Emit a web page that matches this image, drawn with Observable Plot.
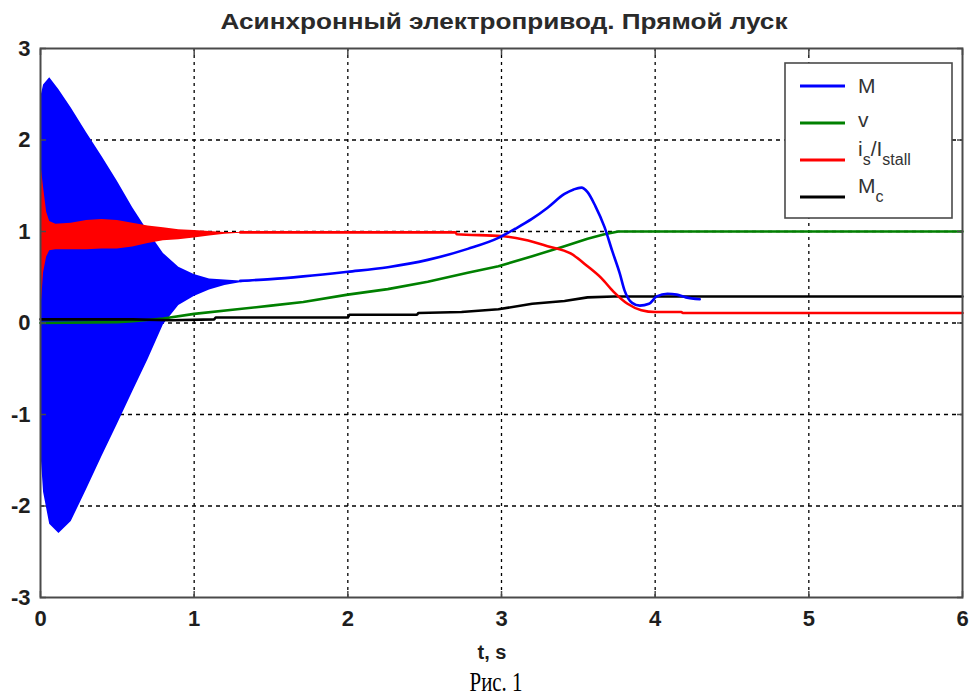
<!DOCTYPE html>
<html>
<head>
<meta charset="utf-8">
<script src="https://cdn.jsdelivr.net/npm/d3@7"></script>
<script src="https://cdn.jsdelivr.net/npm/@observablehq/plot@0.6"></script>
<style>
  html, body { margin: 0; padding: 0; background: #fff; }
  #wrap { position: relative; width: 974px; height: 697px; overflow: hidden; background: #fff; }
  #wrap > svg { position: absolute; left: 0; top: 0; }
</style>
</head>
<body>
<div id="wrap"></div>
<script>
// ---- Texts ----
const titleText = "Асинхронный электропривод. Прямой луск";
const xLabelText = "t, s";
const captionText = "Рис. 1";

// ---- Ticks ----
const xTicks = [0, 1, 2, 3, 4, 5, 6];
const xTickLabels = ["0", "1", "2", "3", "4", "5", "6"];
const yTicks = [-3, -2, -1, 0, 1, 2, 3];
const yTickLabels = ["-3", "-2", "-1", "0", "1", "2", "3"];

// ---- M (torque): dense oscillation drawn as its envelope ----
const mBandT     = [0, 0.02, 0.06, 0.12, 0.2, 0.3, 0.4, 0.5, 0.6, 0.7, 0.8, 0.9, 1.0, 1.1, 1.2, 1.3, 1.38];
const mBandUpper = [2.45, 2.6, 2.68, 2.55, 2.35, 2.08, 1.82, 1.55, 1.26, 1.0, 0.76, 0.61, 0.53, 0.48, 0.47, 0.46, 0.45];
const mBandLower = [-1.35, -1.85, -2.2, -2.3, -2.17, -1.82, -1.46, -1.11, -0.75, -0.4, -0.02, 0.19, 0.29, 0.36, 0.41, 0.44, 0.45];
// ---- M after the transient ----
const mT = [1.3, 1.5, 1.71, 2.0, 2.26, 2.52, 2.78, 2.98, 3.09, 3.2, 3.3, 3.41, 3.47, 3.52, 3.56, 3.61, 3.67, 3.72, 3.77, 3.8, 3.85, 3.9, 3.96, 4.01, 4.08, 4.14, 4.2, 4.29];
const mV = [0.46, 0.48, 0.51, 0.56, 0.61, 0.69, 0.81, 0.93, 1.03, 1.14, 1.26, 1.41, 1.46, 1.48, 1.43, 1.28, 1.05, 0.79, 0.54, 0.36, 0.22, 0.19, 0.21, 0.29, 0.32, 0.31, 0.28, 0.26];

// ---- i_s / I_stall: oscillating envelope then line ----
const iBandT     = [0, 0.005, 0.02, 0.04, 0.06, 0.1, 0.2, 0.3, 0.4, 0.5, 0.6, 0.7, 0.8, 0.9, 1.0, 1.1, 1.2, 1.3];
const iBandUpper = [1.75, 1.7, 1.48, 1.21, 1.11, 1.08, 1.09, 1.12, 1.13, 1.12, 1.09, 1.06, 1.04, 1.02, 1.01, 1.0, 0.99, 0.99];
const iBandLower = [0.0, 0.2, 0.55, 0.72, 0.79, 0.8, 0.8, 0.8, 0.81, 0.81, 0.83, 0.87, 0.9, 0.91, 0.93, 0.95, 0.97, 0.98];
const iT = [1.3, 2.7, 2.71, 3.0, 3.15, 3.3, 3.45, 3.56, 3.65, 3.73, 3.82, 3.91, 4.0, 4.17, 4.18, 6.0];
const iV = [0.99, 0.99, 0.97, 0.95, 0.91, 0.84, 0.76, 0.62, 0.49, 0.34, 0.21, 0.14, 0.12, 0.12, 0.11, 0.11];

// ---- v (speed) ----
const vT = [0, 0.5, 0.6, 0.8, 1.0, 1.28, 1.5, 1.71, 2.0, 2.26, 2.52, 2.78, 2.98, 3.2, 3.41, 3.56, 3.67, 3.76, 6.0];
const vV = [0.0, 0.01, 0.02, 0.05, 0.1, 0.15, 0.19, 0.23, 0.31, 0.37, 0.45, 0.55, 0.62, 0.73, 0.84, 0.92, 0.97, 1.0, 1.0];

// ---- M_c (load torque) ----
const mcT = [0, 0.6, 0.85, 1.13, 1.14, 2.0, 2.01, 2.45, 2.46, 2.74, 2.98, 3.2, 3.41, 3.56, 3.73, 6.0];
const mcV = [0.04, 0.04, 0.03, 0.04, 0.06, 0.06, 0.09, 0.09, 0.11, 0.12, 0.15, 0.21, 0.24, 0.28, 0.29, 0.29];

// ---- Legend ----
const legendNames = ["M", "v", "i_s/I_stall", "M_c"];
const legendColors = ["#0000ff", "#008000", "#ff0000", "#000000"];

// build tables
const mBand = mBandT.map((t, i) => ({t, lo: mBandLower[i], hi: mBandUpper[i]}));
const iBand = iBandT.map((t, i) => ({t, lo: iBandLower[i], hi: iBandUpper[i]}));
const mLine = mT.map((t, i) => ({t, y: mV[i]}));
const iLine = iT.map((t, i) => ({t, y: iV[i]}));
const vLine = vT.map((t, i) => ({t, y: vV[i]}));
const mcLine = mcT.map((t, i) => ({t, y: mcV[i]}));

const LW = 2.6;
const frameColor = "#4a4a4a";
const tickFont = {fontSize: 22, fontWeight: "bold", fill: "#1e1e1e"};
const tickMark = {tickSize: 6, tickFormat: () => "", stroke: frameColor, strokeWidth: 1.5};

const chart = Plot.plot({
  width: 974,
  height: 697,
  marginLeft: 40,
  marginRight: 12,
  marginTop: 48,
  marginBottom: 100,
  style: {background: "#fff", fontFamily: "'Liberation Sans', Arial, sans-serif", overflow: "visible"},
  x: {domain: [0, 6], label: null},
  y: {domain: [-3, 3], label: null},
  marks: [
    Plot.gridX(xTicks.slice(1, -1), {stroke: "#000", strokeOpacity: 1, strokeWidth: 1.3, strokeDasharray: "3,4"}),
    Plot.gridY(yTicks.slice(1, -1), {stroke: "#000", strokeOpacity: 1, strokeWidth: 1.3, strokeDasharray: "4,4"}),
    Plot.areaY(mBand, {x: "t", y1: "lo", y2: "hi", fill: legendColors[0]}),
    Plot.areaY(iBand, {x: "t", y1: "lo", y2: "hi", fill: legendColors[2]}),
    Plot.line(vLine, {x: "t", y: "y", stroke: legendColors[1], strokeWidth: LW}),
    Plot.line(mcLine, {x: "t", y: "y", stroke: legendColors[3], strokeWidth: LW}),
    Plot.line(iLine, {x: "t", y: "y", stroke: legendColors[2], strokeWidth: LW, curve: "monotone-x"}),
    Plot.line(mLine, {x: "t", y: "y", stroke: legendColors[0], strokeWidth: LW, curve: "monotone-x"}),
    Plot.frame({stroke: frameColor, strokeWidth: 2}),
    // inner tick marks on all four sides (outward ticks shifted inside the frame)
    Plot.axisX(xTicks, {anchor: "bottom", dy: -6, ...tickMark}),
    Plot.axisX(xTicks, {anchor: "top", dy: 6, ...tickMark}),
    Plot.axisY(yTicks, {anchor: "left", dx: 6, ...tickMark}),
    Plot.axisY(yTicks, {anchor: "right", dx: -6, ...tickMark}),
    // tick labels
    Plot.axisX(xTicks, {anchor: "bottom", tickSize: 0, tickPadding: 13, tickFormat: (d, i) => xTickLabels[i], ...tickFont}),
    Plot.axisY(yTicks, {anchor: "left", tickSize: 0, tickPadding: 10, tickFormat: (d, i) => yTickLabels[i], ...tickFont})
  ]
});

const wrap = document.getElementById("wrap");
wrap.appendChild(chart);

// ---- overlay: title, axis label, caption, legend ----
const NS = "http://www.w3.org/2000/svg";
const ov = document.createElementNS(NS, "svg");
ov.setAttribute("width", 974);
ov.setAttribute("height", 697);
ov.setAttribute("viewBox", "0 0 974 697");
ov.style.pointerEvents = "none";
wrap.appendChild(ov);

function el(tag, attrs, parent) {
  const e = document.createElementNS(NS, tag);
  for (const k in attrs) e.setAttribute(k, attrs[k]);
  (parent || ov).appendChild(e);
  return e;
}

const title = el("text", {x: 504, y: 29, "text-anchor": "middle", "font-family": "'Liberation Sans', Arial, sans-serif",
  "font-weight": "bold", "font-size": 22, fill: "#2a2a2a", textLength: 567, lengthAdjust: "spacingAndGlyphs"});
title.textContent = titleText;

const xl = el("text", {x: 492, y: 659, "text-anchor": "middle", "font-family": "'Liberation Sans', Arial, sans-serif",
  "font-weight": "bold", "font-size": 20, fill: "#1e1e1e"});
xl.textContent = xLabelText;

const cap = el("text", {x: 496, y: 691, "text-anchor": "middle", "font-family": "'Liberation Serif', 'Times New Roman', serif",
  "font-size": 28, fill: "#000", textLength: 53, lengthAdjust: "spacingAndGlyphs"});
cap.textContent = captionText;

// legend box
el("rect", {x: 785, y: 63, width: 167, height: 155, fill: "#fff", stroke: frameColor, "stroke-width": 1.6});
const rowY = [86, 123, 160, 197];
const baseY = [93, 127, 156, 193];
legendNames.forEach((name, i) => {
  el("line", {x1: 800, x2: 845, y1: rowY[i], y2: rowY[i], stroke: legendColors[i], "stroke-width": 3});
  const t = el("text", {x: 858, y: baseY[i], "font-family": "'Liberation Sans', Arial, sans-serif",
    "font-size": 21, fill: "#333"});
  const parts = name.split("/");
  parts.forEach((p, j) => {
    const [main, sub] = p.split("_");
    const m = el("tspan", {}, t);
    m.textContent = (j > 0 ? "/" : "") + main;
    if (j > 0) m.setAttribute("dy", "-9");
    if (sub) {
      const s = el("tspan", {dy: 9, "font-size": 16}, t);
      s.textContent = sub;
    }
  });
});
</script>
</body>
</html>
